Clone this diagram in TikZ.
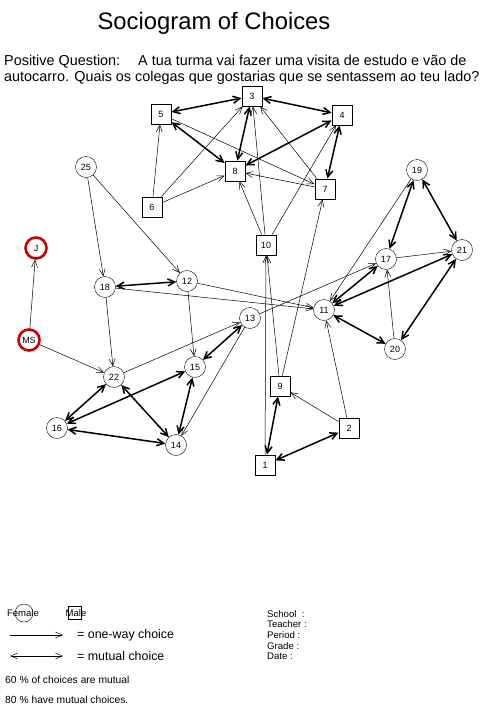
\documentclass[tikz,border=0pt]{standalone}
\usepackage{fontspec}
\setmainfont{Liberation Sans}
\usetikzlibrary{arrows.meta}

\begin{document}
\begin{tikzpicture}[x=1pt,y=-1pt,
   girl/.style={draw,circle,minimum size=21pt,inner sep=0pt,
               font=\fontsize{9}{9}\selectfont},
   boy/.style={draw,minimum size=20.5pt,inner sep=0pt,
               font=\fontsize{9}{9}\selectfont},
   absent/.style={girl,draw=red!78!black,line width=2.6pt},
   one/.style={-{Straight Barb[length=7pt,width=6pt]},line width=0.5pt},
   both/.style={{Straight Barb[length=7pt,width=7pt]}-{Straight Barb[length=7pt,width=7pt]},
               line width=1.5pt},
   small/.style={font=\fontsize{10.3}{10.3}\selectfont,inner sep=0pt}
  ]
  \useasboundingbox (0,0) rectangle (498,707);

  % heading
  \node[font=\fontsize{23.8}{23.8}\selectfont] (title) at (214,23) {Sociogram of Choices};
  \node[anchor=base west,inner sep=0pt,font=\fontsize{14.4}{14.4}\selectfont] (qa) at (4,65)
        {Positive Question:\hspace{18pt}A tua turma vai fazer uma visita de estudo e vão de};
  \node[anchor=base west,inner sep=0pt,font=\fontsize{14.4}{14.4}\selectfont] (qb) at (4,81)
        {autocarro. Quais os colegas que gostarias que se sentassem ao teu lado?};

  % boys
  \node[boy] (n3)  at (252,96)  {3};
  \node[boy] (n5)  at (161,114) {5};
  \node[boy] (n4)  at (342,115) {4};
  \node[boy] (n8)  at (235,171) {8};
  \node[boy] (n7)  at (325,189) {7};
  \node[boy] (n6)  at (152,207) {6};
  \node[boy] (n10) at (266,245) {10};
  \node[boy] (n9)  at (280,386) {9};
  \node[boy] (n2)  at (349,428) {2};
  \node[boy] (n1)  at (265,465) {1};

  % girls
  \node[girl] (n25) at (86,167)  {25};
  \node[girl] (n19) at (417,170) {19};
  \node[girl] (n21) at (462,250) {21};
  \node[girl] (n17) at (386,259) {17};
  \node[girl] (n18) at (105,287) {18};
  \node[girl] (n12) at (187,281) {12};
  \node[girl] (n11) at (324,310) {11};
  \node[girl] (n13) at (250,318) {13};
  \node[girl] (n20) at (395,349) {20};
  \node[girl] (n22) at (114,377) {22};
  \node[girl] (n15) at (195,367) {15};
  \node[girl] (n16) at (57,428)  {16};
  \node[girl] (n14) at (176,445) {14};
  \node[absent] (J)  at (36,248) {J};
  \node[absent] (MS) at (29,340) {MS};

  % mutual choices
  \draw[both] (n3) -- (n5);
  \draw[both] (n3) -- (n4);
  \draw[both] (n3) -- (n8);
  \draw[both] (n5) -- (n8);
  \draw[both] (n4) -- (n8);
  \draw[both] (n4) -- (n7);
  \draw[both] (n18) -- (n12);
  \draw[both] (n19) -- (n17);
  \draw[both] (n19) -- (n21);
  \draw[both] (n17) -- (n11);
  \draw[both] (n21) -- (n11);
  \draw[both] (n11) -- (n20);
  \draw[both] (n21) -- (n20);
  \draw[both] (n13) -- (n15);
  \draw[both] (n22) -- (n16);
  \draw[both] (n22) -- (n14);
  \draw[both] (n16) -- (n15);
  \draw[both] (n16) -- (n14);
  \draw[both] (n15) -- (n14);
  \draw[both] (n9) -- (n1);
  \draw[both] (n1) -- (n2);

  % one-way choices
  \draw[one] (n6) -- (n5);
  \draw[one] (n6) -- (n3);
  \draw[one] (n6) -- (n8);
  \draw[one] (n5) -- (n7);
  \draw[one] (n7) -- (n8);
  \draw[one] (n7) -- (n3);
  \draw[one] (n10) -- (n8);
  \draw[one] (n10) -- (n3);
  \draw[one] (n10) -- (n4);
  \draw[one] (n1) -- (n10);
  \draw[one] (n9) -- (n10);
  \draw[one] (n9) -- (n7);
  \draw[one] (n2) -- (n9);
  \draw[one] (n2) -- (n11);
  \draw[one] (n25) -- (n18);
  \draw[one] (n25) -- (n12);
  \draw[one] (n12) -- (n15);
  \draw[one] (n12) -- (n11);
  \draw[one] (n18) -- (n11);
  \draw[one] (n18) -- (n22);
  \draw[one] (MS) -- (J);
  \draw[one] (MS) -- (n22);
  \draw[one] (n22) -- (n13);
  \draw[one] (n13) -- (n17);
  \draw[one] (n13) -- (n14);
  \draw[one] (n17) -- (n21);
  \draw[one] (n20) -- (n17);
  \draw[one] (n19) -- (n11);

  % legend
  \node[draw,circle,minimum size=18pt,inner sep=0pt] (lf) at (24,613) {};
  \node[font=\fontsize{9.5}{9.5}\selectfont] (lft) at (23,613) {Female};
  \node[draw,minimum size=13pt,inner sep=0pt] (lm) at (75,613) {};
  \node[font=\fontsize{9.5}{9.5}\selectfont] (lmt) at (76,613) {Male};
  \coordinate (oa) at (10,635);
  \coordinate (ob) at (63,635);
  \coordinate (ma) at (10,656);
  \coordinate (mb) at (63,656);
  \draw[one] (oa) -- (ob);
  \draw[one,{Straight Barb[length=7pt,width=6pt]}-{Straight Barb[length=7pt,width=6pt]}] (ma) -- (mb);
  \node[anchor=west,inner sep=0pt,font=\fontsize{12.4}{12.4}\selectfont] (lo) at (77,635) {= one-way choice};
  \node[anchor=west,inner sep=0pt,font=\fontsize{12.4}{12.4}\selectfont] (lu) at (77,656) {= mutual choice};
  \node[anchor=west,small] (pa) at (5,680) {60 \% of choices are mutual};
  \node[anchor=west,small] (pb) at (5,700) {80 \% have mutual choices.};

  % class details
  \node[anchor=north west,align=left,inner sep=0pt,
        font=\fontsize{9.6}{10.7}\selectfont] (info) at (267,610)
        {School\ \ :\\Teacher :\\Period :\\Grade :\\Date :};
\end{tikzpicture}
\end{document}
